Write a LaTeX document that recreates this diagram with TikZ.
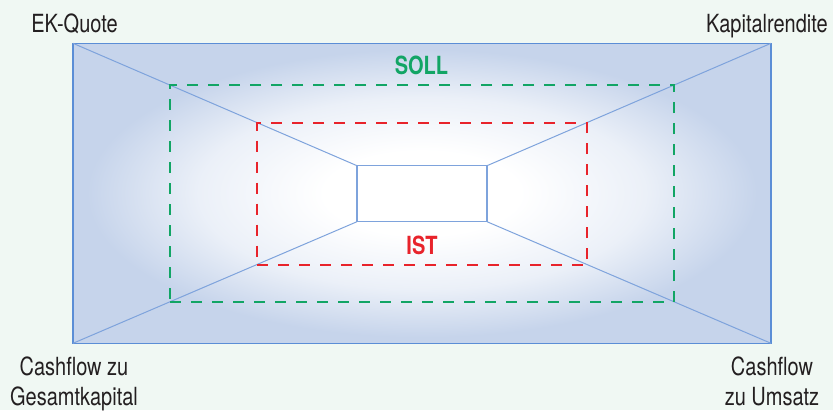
\documentclass[tikz,border=0pt]{standalone}
\usepackage{fontspec}
\setmainfont{TeX Gyre Heros}[FakeStretch=0.8]
\usetikzlibrary{positioning}

\definecolor{bgmint}{HTML}{F0F8F3}
\definecolor{boxblue}{HTML}{C6D4EB}
\colorlet{boxmid}{boxblue!35!white}
\definecolor{edgeblue}{HTML}{5B8ED6}
\definecolor{lineblue}{HTML}{7EA3DC}
\definecolor{sollgreen}{HTML}{12A565}
\definecolor{istred}{HTML}{E8232B}
\definecolor{labelgray}{HTML}{231F20}
\pgfdeclareradialshading{boxglow}{\pgfpoint{0bp}{0bp}}{color(0bp)=(white); color(7bp)=(white); color(16bp)=(boxmid); color(24bp)=(boxblue); color(50bp)=(boxblue)}

\begin{document}
\begin{tikzpicture}[x=1pt,y=-1pt,font=\fontsize{25}{30}\selectfont,text=labelgray]

    \useasboundingbox (0,0) rectangle (833,410);
    \fill[bgmint] (0,0) rectangle (833,410);

    \begin{scope}[every node/.style={rectangle,inner sep=0pt,outer sep=0pt}]
        \node[draw=edgeblue,line width=1.3pt,shade,shading=boxglow,minimum width=698pt,minimum height=300pt] (outer) at (422,193.3) {};
    \end{scope}

    \begin{scope}[every edge/.style={draw=lineblue,line width=1pt}]
        \path (outer.north west) edge (357,165.7);
        \path (outer.north east) edge (487,165.7);
        \path (outer.south west) edge (357,221.7);
        \path (outer.south east) edge (487,221.7);
    \end{scope}

    \begin{scope}[every node/.style={rectangle,inner sep=0pt,outer sep=0pt}]
        \node[draw=lineblue,fill=white,line width=1.2pt,minimum width=130pt,minimum height=56pt] (inner) at (422,193.7) {};
        \node[draw=sollgreen,line width=2pt,dash pattern=on 11pt off 10pt,minimum width=504pt,minimum height=217pt] (soll) at (422,193.5) {};
        \node[draw=istred,line width=2pt,dash pattern=on 11pt off 10pt,minimum width=330pt,minimum height=141.7pt] (ist) at (422,194.2) {};
    \end{scope}

    \begin{scope}[every node/.style={anchor=base,align=center}]
        \node (ekquote) at (74.5,32.7) {EK-Quote};
        \node (rendite) at (767,32.7) {Kapitalrendite};
        \node (cfgesamt) at (74,405) {Cashflow zu\\Gesamtkapital};
        \node (cfumsatz) at (772,405) {Cashflow\\zu Umsatz};
        \node[text=sollgreen,font=\fontsize{25}{30}\selectfont\bfseries] (solltext) at (421.5,74) {SOLL};
        \node[text=istred,font=\fontsize{25}{30}\selectfont\bfseries] (isttext) at (422,254.3) {IST};
    \end{scope}

\end{tikzpicture}
\end{document}
